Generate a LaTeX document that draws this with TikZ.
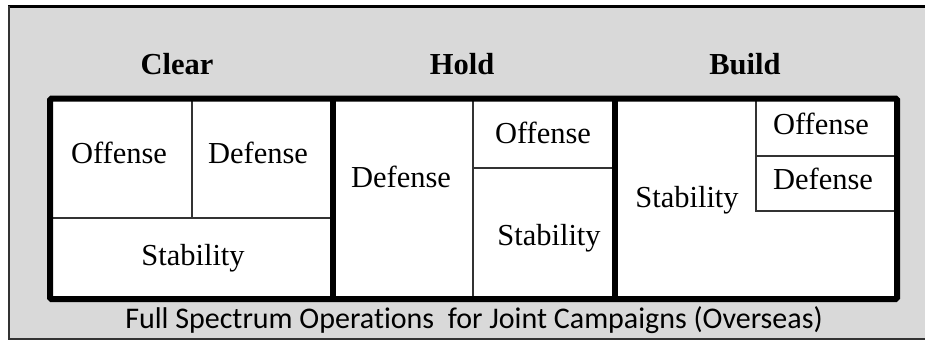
\documentclass[tikz,border=0pt]{standalone}
\usepackage{fontspec}
\setmainfont{Liberation Serif}
\newfontfamily\capfont[Ligatures=NoCommon]{Carlito}
\definecolor{bggray}{HTML}{D9D9D9}
\definecolor{thinline}{HTML}{333333}
\begin{document}
\begin{tikzpicture}[x=1pt,y=-1pt,
  cell/.style={draw=thinline,line width=1.3pt},
  thick frame/.style={draw=black,line width=6pt,rounded corners=1.5pt},
  body/.style={anchor=base,inner sep=0pt,font=\fontsize{30.5}{34}\selectfont},
  head/.style={anchor=base,inner sep=0pt,font=\fontsize{30.5}{34}\selectfont\bfseries},
  captxt/.style={anchor=base,inner sep=0pt,font=\capfont\fontsize{30}{34}\selectfont}]
\useasboundingbox (0,0) rectangle (925,341);
% background panel
\fill[bggray] (9,6) rectangle (925,339);
\draw[black,line width=3pt] (8,6.5) -- (925,6.5);
\draw[thinline,line width=1.5pt] (9,6) -- (9,339) -- (925,339);
% white interior
\fill[white] (50,98.5) rectangle (897,299);
% thin cell lines
\draw[cell] (192,98.5) -- (192,218);
\draw[cell] (50,218) -- (333,218);
\draw[cell] (473,98.5) -- (473,299);
\draw[cell] (473,168) -- (615,168);
\draw[cell] (756,98.5) -- (756,211) -- (897,211);
\draw[cell] (756,156) -- (897,156);
% thick frame and dividers
\draw[thick frame] (50,98.5) rectangle (897,299);
\draw[draw=black,line width=6pt] (333,98.5) -- (333,299);
\draw[draw=black,line width=6pt] (615,98.5) -- (615,299);
% headings
\node[head] (clear) at (177,74) {Clear};
\node[head] (hold) at (462,74) {Hold};
\node[head] (build) at (745,74) {Build};
% Clear
\node[body] (coff) at (119,163) {Offense};
\node[body] (cdef) at (258,163) {Defense};
\node[body] (cstab) at (193,265) {Stability};
% Hold
\node[body] (hdef) at (401,187) {Defense};
\node[body] (hoff) at (543,143) {Offense};
\node[body] (hstab) at (549,245) {Stability};
% Build
\node[body] (bstab) at (687,207) {Stability};
\node[body] (boff) at (821,134) {Offense};
\node[body] (bdef) at (823,189) {Defense};
% caption
\node[captxt] (cap) at (474,328) {Full Spectrum Operations\ \ for Joint Campaigns (Overseas)};
\end{tikzpicture}
\end{document}
